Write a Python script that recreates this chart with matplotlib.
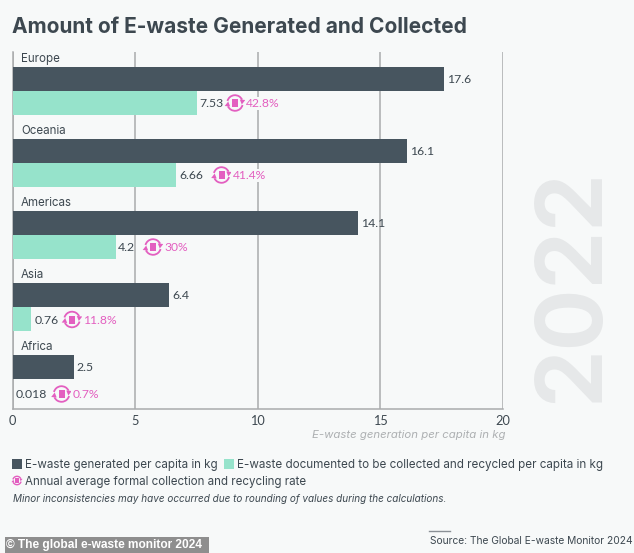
import matplotlib
matplotlib.use("Agg")
import matplotlib.pyplot as plt
from matplotlib.patches import Arc, Circle, Rectangle, Polygon

W, H = 634, 553

regions = ["Europe", "Oceania", "Americas", "Asia", "Africa"]
generated = [17.6, 16.1, 14.1, 6.4, 2.5]
collected = [7.53, 6.66, 4.2, 0.76, 0.018]
collected_txt = ["7.53", "6.66", "4.2", "0.76", "0.018"]
rate_txt = ["42.8%", "41.4%", "30%", "11.8%", "0.7%"]
xticks = [0, 5, 10, 15, 20]

BG = "#f7f9f9"
DARK = "#47555f"
GREEN = "#96e3cb"
PINK = "#e35fc0"
TXT = "#3d4850"
GRID = "#a9abad"
FONT = "Inter"
NUM_FONT = "Lato"

plt.rcParams["font.family"] = [FONT, "DejaVu Sans"]

fig = plt.figure(figsize=(W / 100, H / 100), dpi=100, facecolor=BG)

# main chart, placed in pixels
ax = fig.add_axes([12.5 / W, 1 - 408.5 / H, (503 - 12.5) / W, (408.5 - 52) / H], facecolor=BG)
# overlay in pixel coords for the loose furniture
ov = fig.add_axes([0, 0, 1, 1], facecolor="none", zorder=5)
ov.set_xlim(0, W)
ov.set_ylim(H, 0)
ov.axis("off")

ypos = list(range(len(regions)))
ax.barh(ypos, generated, height=1 / 3, color=DARK, zorder=3)
ax.barh([y + 1 / 3 for y in ypos], collected, height=1 / 3, color=GREEN, zorder=3)

ax.set_xlim(0, 20)
ax.set_ylim(4.576, -0.375)
ax.set_xticks(xticks)
ax.set_yticks([])
ax.tick_params(axis="x", length=0, pad=5, labelsize=9.2, labelcolor=TXT, labelfontfamily=NUM_FONT)
ax.grid(axis="x", color=GRID, lw=1.1, zorder=1)
for s in ["top", "right"]:
    ax.spines[s].set_visible(False)
ax.spines["left"].set_color(GRID)
ax.spines["left"].set_linewidth(1.1)
ax.spines["bottom"].set_color(GRID)
ax.spines["bottom"].set_linewidth(1.1)


def icon(cx, cy, r=7.8, lw=1.3):
    # round recycling arrows around a small bin
    k = r / 7.8
    ov.add_patch(Arc((cx, cy), 2 * r, 2 * r, theta1=195, theta2=335, color=PINK, lw=lw))
    ov.add_patch(Arc((cx, cy), 2 * r, 2 * r, theta1=15, theta2=155, color=PINK, lw=lw))
    ov.add_patch(Polygon([(cx + r + 2.5 * k, cy - 3 * k), (cx + r - 3 * k, cy - 3.5 * k), (cx + r - k, cy + 1.5 * k)],
                         color=PINK, lw=0))
    ov.add_patch(Polygon([(cx - r - 2.5 * k, cy + 3 * k), (cx - r + 3 * k, cy + 3.5 * k), (cx - r + k, cy - 1.5 * k)],
                         color=PINK, lw=0))
    ov.add_patch(Rectangle((cx - 3 * k, cy - 4 * k), 6 * k, 8 * k, color=PINK, lw=0))


box = dict(facecolor=BG, edgecolor="none", pad=1.2)

for i, name in enumerate(regions):
    yc = ypos[i]
    ax.text(0.35, yc - 0.28, name, fontsize=8.3, color=TXT, va="center", ha="left", bbox=box, zorder=2)
    ax.annotate(str(generated[i]), (generated[i], yc), xytext=(3, 0), textcoords="offset pixels",
                fontsize=8.8, family=NUM_FONT, color=TXT, va="center", ha="left", zorder=4)

# pixel centres of the icons, and where each label starts
icon_x = [235, 221.5, 153, 72, 61.5]
label_x = [199, 179, 118, 35, 16]
label_y = [103.5, 175.5, 247.5, 320, 394.5]
for i in range(len(regions)):
    ov.text(label_x[i], label_y[i], collected_txt[i], fontsize=8.8, family=NUM_FONT, color=TXT,
            va="center", ha="left")
    ov.add_patch(Circle((icon_x[i], label_y[i] - 0.5), 10, color=BG, lw=0))
    icon(icon_x[i], label_y[i] - 0.5)
    ov.text(icon_x[i] + 11, label_y[i], rate_txt[i], fontsize=8.7, family=NUM_FONT, color=PINK,
            va="center", ha="left", bbox=dict(facecolor=BG, edgecolor="none", pad=1))

ov.text(12, 27, "Amount of E-waste Generated and Collected", fontsize=15.05, fontweight="bold",
        color=TXT, va="center", ha="left")
ov.text(506, 435, "E-waste generation per capita in kg", fontsize=8.2, style="italic",
        color="#adb0b2", va="center", ha="right")

ov.text(574, 285.5, "2022", fontsize=66, fontweight="bold", color="#e6e8e9", rotation=90,
        va="center", ha="center", zorder=-1)

# legend
ov.add_patch(Rectangle((12, 459), 10, 10, color=DARK, lw=0))
ov.text(25, 465, "E-waste generated per capita in kg", fontsize=8.35, color=TXT, va="center")
ov.add_patch(Rectangle((224, 459), 9.5, 10, color=GREEN, lw=0))
ov.text(237, 465, "E-waste documented to be collected and recycled per capita in kg", fontsize=8.4,
        color=TXT, va="center")
icon(17, 480.5, r=4.2, lw=1)
ov.text(25, 482, "Annual average formal collection and recycling rate", fontsize=8.3, color=TXT, va="center")
ov.text(13, 498.5, "Minor inconsistencies may have occurred due to rounding of values during the calculations.",
        fontsize=7.15, style="italic", color=TXT, va="center")

ov.plot([429, 450], [530.5, 530.5], color="#8a9096", lw=1)
ov.text(429.5, 541, "Source: The Global E-waste Monitor 2024", fontsize=7.35, color=TXT, va="center")

ov.add_patch(Rectangle((5, 537), 204, 16, color="#8e8e8e", lw=0))
ov.text(6, 545, "© The global e-waste monitor 2024", fontsize=8.6, fontweight="bold", color="white",
        family="Liberation Sans", va="center")

fig.savefig("out.png", dpi=100, facecolor=BG)
